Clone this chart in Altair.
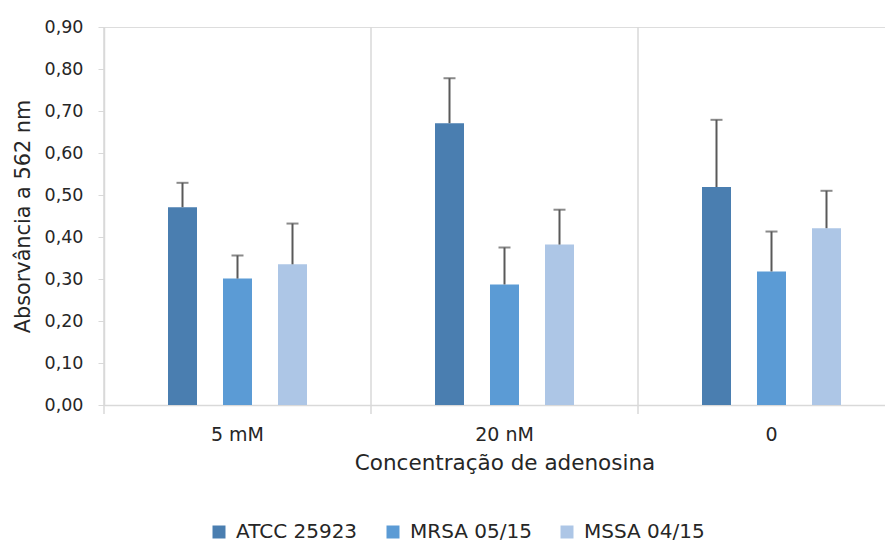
import altair as alt
import pandas as pd

grupos = ["5 mM", "20 nM", "0"]
series = ["ATCC 25923", "MRSA 05/15", "MSSA 04/15"]
cores = ["#4a7eb0", "#5b9bd5", "#adc6e6"]

media_atcc = [0.471, 0.671, 0.519]
media_mrsa = [0.301, 0.287, 0.318]
media_mssa = [0.335, 0.382, 0.421]

dp_atcc = [0.058, 0.107, 0.160]
dp_mrsa = [0.055, 0.088, 0.095]
dp_mssa = [0.097, 0.083, 0.089]

rows = []
for s, ms, ds in [(series[0], media_atcc, dp_atcc), (series[1], media_mrsa, dp_mrsa), (series[2], media_mssa, dp_mssa)]:
    for g, m, d in zip(grupos, ms, ds):
        rows.append({"grupo": g, "serie": s, "media": m, "sup": m + d})
df = pd.DataFrame(rows)
df_g = pd.DataFrame({"grupo": grupos})

FONT = "DejaVu Sans"
xscale = alt.Scale(domain=grupos, paddingInner=0, paddingOuter=0)
xoff = alt.XOffset("serie:N", sort=series, scale=alt.Scale(range=[64, 203], paddingInner=0.4727, paddingOuter=0))
yscale = alt.Scale(domain=[0, 0.9], nice=False)

xaxis = alt.Axis(title="Concentração de adenosina", labelAngle=0, ticks=False, domainColor="#d9d9d9",
                 domainWidth=1.5, labelFontSize=19, labelColor="#262626", labelPadding=20,
                 titleFontSize=21.5, titleColor="#262626", titleFontWeight="normal", titlePadding=8,
                 labelFont=FONT, titleFont=FONT)
yaxis = alt.Axis(title="Absorvância a 562 nm", values=[0, 0.1, 0.2, 0.3, 0.4, 0.5, 0.6, 0.7, 0.8, 0.9],
                 labelExpr="replace(format(datum.value, '.2f'), '.', ',')", grid=False,
                 domainColor="#d9d9d9", domainWidth=1.5, tickColor="#d9d9d9", tickSize=6,
                 labelFontSize=17.5, labelColor="#262626", labelPadding=15,
                 titleFontSize=20.8, titleColor="#262626", titleFontWeight="normal", titlePadding=11,
                 labelFont=FONT, titleFont=FONT)

sep = alt.Chart(df_g).mark_rule(color="#d9d9d9", strokeWidth=1.5).encode(
    x=alt.X("grupo:N", sort=grupos, bandPosition=0, scale=xscale, axis=xaxis),
    y=alt.value(0), y2=alt.value(387),
)

bars = alt.Chart(df).mark_bar().encode(
    x=alt.X("grupo:N", sort=grupos, scale=xscale, axis=xaxis),
    xOffset=xoff,
    y=alt.Y("media:Q", scale=yscale, axis=yaxis),
    color=alt.Color("serie:N", sort=series, scale=alt.Scale(domain=series, range=cores),
                    legend=alt.Legend(orient="none", legendX=105, legendY=495, direction="horizontal",
                                      title=None, symbolType="square", symbolSize=169,
                                      symbolStrokeWidth=0, labelFontSize=20, labelFont=FONT,
                                      labelColor="#262626", labelOffset=7, columnPadding=25)),
)

err = alt.Chart(df).mark_rule(color="#595959", strokeWidth=2).encode(
    x=alt.X("grupo:N", sort=grupos, scale=xscale),
    xOffset=xoff,
    y=alt.Y("media:Q", scale=yscale),
    y2="sup:Q",
)

caps = alt.Chart(df).mark_tick(color="#595959", thickness=2, size=12).encode(
    x=alt.X("grupo:N", sort=grupos, scale=xscale),
    xOffset=xoff,
    y=alt.Y("sup:Q", scale=yscale),
)

chart = alt.layer(sep, bars, err, caps).properties(
    width=801, height=378,
    autosize=alt.AutoSizeParams(type="none"),
    padding={"left": 96, "top": 19, "right": -20, "bottom": 139},
).configure_view(stroke=None).configure(font=FONT)

chart.save("out.html", embed_options={"renderer": "svg", "actions": False})
